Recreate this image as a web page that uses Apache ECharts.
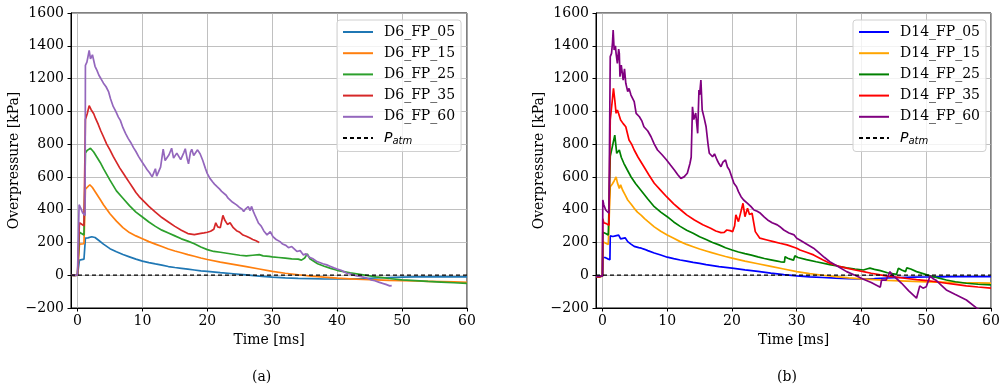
<!DOCTYPE html>
<html>
<head>
<meta charset="utf-8">
<script src="https://cdn.jsdelivr.net/npm/echarts@6/dist/echarts.min.js"></script>
<style>
  html, body { margin: 0; padding: 0; background: #fff; }
  #chart { width: 1006px; height: 390px; }
</style>
</head>
<body>
<div id="chart"></div>
<script>
// Overpressure histories [ms, kPa] at five distances, two test series.
const xTicks = [0, 10, 20, 30, 40, 50, 60];
const yTicks = [-200, 0, 200, 400, 600, 800, 1000, 1200, 1400, 1600];

const namesA = ['D6_FP_05', 'D6_FP_15', 'D6_FP_25', 'D6_FP_35', 'D6_FP_60'];
const namesB = ['D14_FP_05', 'D14_FP_15', 'D14_FP_25', 'D14_FP_35', 'D14_FP_60'];
const patmName = 'Patm';
const captions = ['(a)', '(b)'];

const d6_05 = [[-1,0],[-0.5,-1],[0,0],[0.2,2],[0.3,92],[0.6,96],[1.0,98],[1.17,100],[1.22,226],[1.6,228],[2.2,235],[2.7,230],[3.2,215],[4,190],[5,162],[6,143],[7,126],[8,112],[9,98],[10,86],[11,77],[12,69],[13,62],[14,53],[15,47],[16,42],[17,37],[18,32],[19,27],[20,24],[22,16],[24,9],[26,2],[28,-6],[30,-12],[32,-16],[34,-19],[36,-21],[38,-23],[40,-23],[42,-22],[44,-20],[46,-17],[48,-14],[50,-12],[52,-10],[54,-10],[56,-9],[58,-10],[60,-10]];
const d6_15 = [[-1,0],[-0.5,-1],[0,0],[0.2,2],[0.3,190],[0.6,196],[1.0,192],[1.17,195],[1.22,525],[1.5,535],[1.9,552],[2.3,535],[2.8,505],[3.5,462],[4,430],[5,375],[6,330],[7,290],[8,260],[9,240],[10,222],[11,205],[12,190],[13,175],[14,160],[15,148],[16,137],[17,126],[18,116],[19,105],[20,96],[22,80],[24,66],[26,52],[28,38],[30,24],[32,12],[34,3],[36,-5],[38,-12],[40,-18],[42,-22],[44,-26],[46,-28],[48,-31],[50,-33],[52,-35],[54,-37],[56,-39],[58,-41],[60,-43]];
const d6_25 = [[-1,0],[-0.5,-1],[0,0],[0.2,3],[0.3,262],[0.6,258],[1.0,245],[1.17,242],[1.22,745],[1.5,762],[2.0,775],[2.5,752],[3,720],[3.5,688],[4,650],[5,580],[6,515],[7,470],[8,425],[9,385],[10,355],[11,325],[12,298],[13,275],[14,258],[15,240],[16,222],[17,208],[18,192],[19,172],[20,156],[21,145],[22,140],[23,134],[24,128],[25,122],[26,118],[27,122],[28,126],[28.2,138],[28.6,118],[29.5,115],[30,112],[31,108],[32,104],[33,100],[34,98],[34.5,92],[35,105],[35.4,130],[35.8,100],[36,88],[37,70],[38,55],[39,42],[40,30],[41,22],[42,14],[43,8],[44,2],[45,-4],[46,-10],[47,-15],[48,-20],[50,-28],[52,-33],[54,-38],[56,-42],[58,-46],[60,-50]];
const d6_35 = [[-1,0],[-0.5,-1],[0,0],[0.2,3],[0.3,320],[0.6,312],[1.0,302],[1.17,300],[1.22,950],[1.5,985],[1.8,1035],[2.1,1010],[2.5,985],[2.8,955],[3.2,920],[3.6,880],[4,845],[4.5,800],[5,765],[5.5,725],[6,690],[6.5,655],[7,625],[7.5,595],[8,565],[8.5,535],[9,505],[9.5,480],[10,460],[11,420],[12,385],[13,352],[14,325],[15,298],[16,275],[17,254],[18,248],[19,255],[19.5,258],[20,262],[20.5,268],[21,280],[21.3,320],[21.6,295],[22,290],[22.4,365],[22.7,335],[23.1,310],[23.5,320],[24,290],[24.5,272],[25,262],[25.5,245],[26,238],[26.5,228],[27,218],[27.5,210],[28,200]];
const d6_60 = [[-1,0],[-0.5,-1],[0,2],[0.15,5],[0.25,430],[0.5,410],[0.8,380],[1.0,370],[1.17,365],[1.22,1280],[1.45,1300],[1.6,1330],[1.8,1372],[2.0,1320],[2.3,1345],[2.7,1275],[3.0,1250],[3.3,1220],[3.6,1200],[4.0,1172],[4.4,1150],[4.8,1118],[5.1,1075],[5.5,1030],[5.9,1000],[6.3,965],[6.6,945],[7.0,900],[7.4,865],[7.8,835],[8.2,810],[8.6,780],[9.0,755],[9.4,725],[9.8,700],[10.3,670],[10.7,645],[11.1,625],[11.5,600],[11.8,595],[12.0,650],[12.2,605],[12.5,610],[12.8,660],[13.0,672],[13.2,770],[13.5,700],[13.8,693],[14.1,735],[14.5,775],[14.8,715],[15.0,705],[15.3,745],[15.6,740],[15.9,705],[16.1,700],[16.4,750],[16.6,772],[16.9,710],[17.1,680],[17.4,750],[17.6,768],[17.9,730],[18.1,725],[18.5,765],[18.9,740],[19.3,700],[19.7,652],[20.0,620],[20.4,591],[20.8,570],[21.1,556],[21.5,540],[21.9,525],[22.2,512],[22.5,500],[22.9,488],[23.2,470],[23.5,459],[23.9,445],[24.2,440],[24.5,429],[24.9,415],[25.3,405],[25.6,388],[25.9,405],[26.3,418],[26.6,395],[26.8,420],[27.1,388],[27.4,360],[27.9,317],[28.3,300],[28.7,270],[29.2,246],[29.7,266],[30.1,235],[30.6,218],[31.2,205],[31.6,190],[32.1,182],[32.5,168],[33.0,175],[33.3,165],[33.8,145],[34.3,150],[34.8,124],[35.2,130],[35.8,108],[36.3,100],[36.8,85],[37.3,78],[37.8,70],[38.4,63],[38.9,55],[39.5,45],[40.0,38],[40.6,30],[41.0,22],[41.5,12],[42.0,8],[42.5,2],[43.0,-4],[43.5,-8],[44.0,-12],[44.6,-18],[45.2,-28],[45.8,-34],[46.4,-42],[47.0,-50],[47.5,-56],[48.1,-65],[48.4,-63]];

const d14_05 = [[-1,-8],[-0.7,-15],[-0.4,-5],[-0.1,-12],[0,-5],[0.05,108],[0.4,108],[0.8,100],[1.15,95],[1.2,240],[1.6,236],[2.0,240],[2.5,245],[2.8,222],[3.1,218],[3.5,228],[3.9,205],[4.4,190],[4.9,176],[5.2,180],[5.6,168],[6.0,165],[6.5,158],[7,150],[8,136],[9,123],[10,110],[11,101],[12,93],[13,86],[14,78],[15,72],[16,65],[17,59],[18,53],[19,48],[20,43],[22,33],[24,24],[26,13],[28,4],[30,-4],[32,-10],[34,-14],[36,-18],[38,-21],[40,-22],[42,-20],[44,-17],[46,-14],[48,-12],[50,-11],[52,-10],[54,-9],[56,-9],[58,-9],[60,-9]];
const d14_15 = [[-1,-8],[-0.5,-10],[0,-5],[0.05,205],[0.5,195],[0.9,188],[1.15,180],[1.2,540],[1.5,555],[1.8,575],[2.1,600],[2.3,565],[2.6,530],[2.8,551],[3.1,520],[3.5,490],[3.9,459],[4.4,435],[4.9,408],[5.4,385],[6.0,365],[6.5,345],[7,328],[8,295],[9,268],[10,245],[11,225],[12,205],[13,188],[14,174],[15,160],[16,148],[17,136],[18,125],[19,114],[20,104],[22,86],[24,70],[26,54],[28,38],[30,22],[32,10],[34,0],[36,-9],[38,-16],[40,-22],[42,-27],[44,-31],[46,-34],[48,-37],[50,-40],[52,-42],[54,-44],[56,-46],[58,-47],[60,-48]];
const d14_25 = [[-1,-8],[-0.5,-10],[0,-5],[0.05,262],[0.5,255],[0.9,245],[1.15,240],[1.2,725],[1.5,780],[1.9,855],[2.1,780],[2.2,744],[2.6,764],[2.9,720],[3.3,683],[3.8,645],[4.4,601],[5.1,560],[5.9,520],[7,465],[8,418],[9,385],[10,357],[11,325],[12,298],[13,275],[14,256],[15,235],[16,218],[17,200],[18,185],[19,168],[20,154],[21,142],[22,132],[23,123],[24,112],[25,102],[26,94],[27,86],[27.5,82],[28.1,80],[28.2,113],[28.6,104],[29.0,98],[29.5,92],[29.7,118],[30.2,108],[31.5,95],[33,82],[35.1,65],[36,58],[37.7,45],[39,38],[40.3,32],[40.8,38],[41.3,43],[42,36],[42.9,28],[44,15],[45.4,5],[45.6,6],[45.7,43],[46.2,32],[46.8,22],[47.0,45],[47.6,38],[48.5,22],[49.5,10],[50.1,2],[51,-8],[52,-18],[53.1,-29],[54.5,-40],[56.2,-49],[58,-55],[60,-59]];
const d14_35 = [[-1,-8],[-0.5,-10],[0,-5],[0.05,345],[0.2,320],[0.6,315],[1.0,305],[1.15,300],[1.2,947],[1.5,1060],[1.7,1140],[1.9,1069],[2.1,988],[2.3,1008],[2.5,985],[2.8,947],[3.2,925],[3.6,906],[4.1,825],[4.5,800],[4.9,764],[5.5,720],[6.4,662],[7.2,610],[8.0,561],[9.0,518],[9.9,479],[11,435],[12.1,398],[13,368],[14.2,337],[15.5,308],[16.7,287],[17.5,270],[18.3,260],[18.8,262],[19.2,276],[19.7,272],[20.1,266],[20.4,300],[20.6,368],[21.0,327],[21.3,320],[21.7,439],[22.0,357],[22.4,408],[22.7,370],[23.1,378],[23.6,266],[24.3,226],[25.4,215],[26.4,205],[27.4,195],[28.5,185],[30,165],[30.5,154],[31.5,140],[32.6,124],[34,95],[35.1,73],[36.5,55],[37.7,43],[39,32],[40.3,22],[41.5,12],[42.9,2],[44,-5],[45.4,-12],[47,-20],[48.5,-27],[50.1,-33],[51.5,-40],[53.1,-49],[54.5,-56],[56.2,-65],[58,-72],[60,-79]];
const d14_60 = [[-1,-8],[-0.7,-20],[-0.4,-5],[-0.2,-15],[0,-5],[0.05,459],[0.2,430],[0.5,398],[0.8,390],[1.0,378],[1.1,375],[1.2,1334],[1.4,1354],[1.55,1420],[1.65,1496],[1.8,1374],[2.0,1400],[2.1,1354],[2.3,1293],[2.5,1380],[2.6,1354],[2.7,1211],[2.9,1282],[3.2,1191],[3.4,1260],[3.6,1171],[3.9,1120],[4.1,1140],[4.4,1099],[4.9,1059],[5.2,988],[5.7,967],[6.1,940],[6.4,906],[7.0,880],[7.5,845],[8.0,800],[8.5,764],[9.2,735],[9.9,703],[10.5,672],[11.1,642],[11.6,615],[12.1,591],[12.6,600],[13.1,622],[13.5,680],[13.7,720],[13.9,1028],[14.1,950],[14.2,947],[14.4,990],[14.7,866],[14.9,1130],[15.0,1100],[15.2,1191],[15.4,1008],[15.7,960],[16.0,906],[16.3,800],[16.5,744],[17.0,723],[17.3,740],[17.7,703],[18.0,680],[18.3,662],[18.6,690],[19.0,703],[19.3,660],[19.6,642],[19.9,630],[20.3,561],[20.7,540],[21.0,510],[21.4,479],[21.8,459],[22.4,439],[22.9,420],[23.4,398],[23.9,390],[24.4,378],[25.0,355],[25.5,337],[26.2,320],[27.0,307],[27.4,296],[28.0,276],[28.8,258],[29.6,246],[30.0,226],[30.6,212],[31.5,190],[32.6,165],[33.5,135],[34.3,108],[35.1,83],[36.5,50],[37.7,22],[39,0],[40.3,-24],[41.5,-45],[42.9,-73],[43.1,-29],[43.8,-30],[44.4,22],[44.8,-2],[45.4,-20],[46.2,-49],[47.3,-95],[48.5,-140],[49.0,-65],[49.5,-79],[50.0,-70],[50.6,-4],[51.0,-20],[51.5,-30],[52.3,-60],[53.1,-90],[54.5,-118],[56.2,-151],[57.8,-201],[59,-225],[60,-240]];
const patmLine = [[-1, 0], [60, 0]];

const seriesA = [d6_05, d6_15, d6_25, d6_35, d6_60];
const seriesB = [d14_05, d14_15, d14_25, d14_35, d14_60];
const colorsA = ['#1f77b4', '#ff7f0e', '#2ca02c', '#d62728', '#9467bd'];
const colorsB = ['#0000ff', '#ffa500', '#008000', '#ff0000', '#800080'];

const FONT = 'DejaVu Serif';
const GRID_GRAY = '#b0b0b0';

const chart = echarts.init(document.getElementById('chart'), null, { renderer: 'canvas' });

const gridBoxes = [
  { left: 71, top: 13, width: 396, height: 295 },
  { left: 596, top: 13, width: 395, height: 295 }
];

function xAxisFor(i) {
  return {
    type: 'value', gridIndex: i, min: -1, max: 60,
    name: 'Time [ms]', nameLocation: 'middle', nameGap: 22,
    nameTextStyle: { fontFamily: FONT, fontSize: 14, color: '#000' },
    axisLine: { show: true, onZero: false, lineStyle: { color: '#000', width: 1 } },
    axisTick: { show: true, inside: false, length: 3.5, customValues: xTicks, lineStyle: { color: '#000', width: 1 } },
    axisLabel: { show: true, margin: 6, customValues: xTicks, fontFamily: FONT, fontSize: 14, color: '#000' },
    splitLine: { show: false }
  };
}

function yAxisFor(i) {
  return {
    type: 'value', gridIndex: i, min: yTicks[0], max: yTicks[yTicks.length - 1], interval: 200,
    name: 'Overpressure [kPa]', nameLocation: 'middle', nameGap: 45,
    nameTextStyle: { fontFamily: FONT, fontSize: 14, color: '#000' },
    axisLine: { show: true, onZero: false, lineStyle: { color: '#000', width: 1 } },
    axisTick: { show: true, inside: false, length: 3.5, lineStyle: { color: '#000', width: 1 } },
    axisLabel: {
      margin: 7, fontFamily: FONT, fontSize: 14, color: '#000',
      formatter: v => String(v).replace('-', '\u2212')
    },
    splitLine: { show: true, lineStyle: { color: GRID_GRAY, width: 0.8 } }
  };
}

function dataSeries(names, data, colors, gi) {
  return names.map((n, k) => ({
    name: n, type: 'line', xAxisIndex: gi, yAxisIndex: gi,
    data: data[k], showSymbol: false, symbol: 'none', clip: true, z: 3,
    lineStyle: { color: colors[k], width: 1.7 },
    itemStyle: { color: colors[k] }
  }));
}

function patmSeries(gi) {
  return {
    name: patmName, type: 'line', xAxisIndex: gi, yAxisIndex: gi,
    data: patmLine, showSymbol: false, symbol: 'none', z: 4,
    lineStyle: { color: '#000', width: 1.2, type: [4, 3] },
    itemStyle: { color: '#000' },
    markLine: {
      silent: true, symbol: ['none', 'none'], z: 1, animation: false,
      label: { show: false },
      lineStyle: { color: GRID_GRAY, width: 0.8, type: 'solid' },
      data: xTicks.map(t => ({ xAxis: t }))
    }
  };
}

const legendRich = {
  p: { fontFamily: 'DejaVu Sans', fontStyle: 'italic', fontSize: 14, color: '#000' },
  s: { fontFamily: 'DejaVu Sans', fontStyle: 'italic', fontSize: 10, color: '#000', padding: [7, 0, 0, 0] }
};

function legendFor(names, left) {
  return {
    orient: 'vertical', left: left, top: 20,
    data: names.concat([patmName]),
    selectedMode: false,
    itemWidth: 30, itemHeight: 14, itemGap: 7.2,
    padding: [5, 6, 5, 5],
    itemStyle: { opacity: 0, borderWidth: 0 },
    borderColor: '#d0d0d0', borderWidth: 1, borderRadius: 3,
    backgroundColor: 'rgba(255,255,255,0.8)',
    textStyle: { fontFamily: FONT, fontSize: 14, color: '#000', padding: [0, 0, 0, 6], rich: legendRich },
    formatter: name => (name === patmName ? '{p|P}{s|atm}' : name)
  };
}

const option = {
  animation: false,
  backgroundColor: '#fff',
  grid: gridBoxes.map(g => Object.assign({ show: true, borderColor: '#000', borderWidth: 1, backgroundColor: 'transparent' }, g)),
  xAxis: [xAxisFor(0), xAxisFor(1)],
  yAxis: [yAxisFor(0), yAxisFor(1)],
  legend: [legendFor(namesA, 337), legendFor(namesB, 853)],
  series: [
    patmSeries(0), ...dataSeries(namesA, seriesA, colorsA, 0),
    patmSeries(1), ...dataSeries(namesB, seriesB, colorsB, 1)
  ],
  graphic: [
    { type: 'text', left: 252, top: 370, style: { text: captions[0], font: '14px "DejaVu Serif"', fill: '#000' } },
    { type: 'text', left: 777, top: 370, style: { text: captions[1], font: '14px "DejaVu Serif"', fill: '#000' } }
  ]
};

chart.setOption(option);
</script>
</body>
</html>
